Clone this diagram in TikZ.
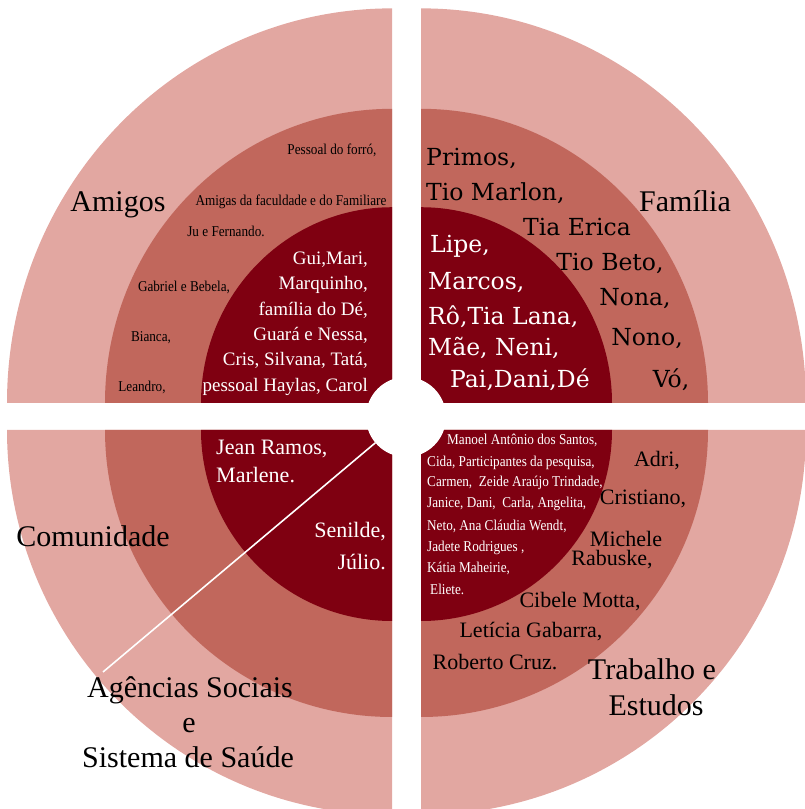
\documentclass[tikz,border=0pt]{standalone}
\usepackage{fontspec}
\setmainfont{Liberation Serif}
\newfontfamily\condfont[FakeStretch=0.88]{Liberation Serif}
\newfontfamily\wideserif{DejaVu Serif}
\usepackage{tikz}

\definecolor{outerring}{HTML}{E2A7A1}
\definecolor{midring}{HTML}{C1675C}
\definecolor{innerring}{HTML}{7F0011}

\tikzset{
  sector label/.style={inner sep=0, anchor=base, font=\fontsize{30}{34}\selectfont},
  small name/.style={inner sep=0, anchor=mid, yshift=-2.5pt, text=black, font=\condfont\fontsize{15}{18}\selectfont},
  small white/.style={inner sep=0, anchor=mid west, yshift=-2.5pt, text=white, font=\condfont\fontsize{15}{18}\selectfont},
  ring name/.style={inner sep=0, anchor=mid, yshift=-5pt, text=black, font=\fontsize{22}{24}\selectfont},
  white name/.style={inner sep=0, yshift=-5pt, text=white, font=\fontsize{22}{24}\selectfont},
  wide name/.style={inner sep=0, anchor=mid, yshift=-5pt, font=\wideserif\fontsize{23.5}{26}\selectfont}
}

\begin{document}
\begin{tikzpicture}[x=1pt,y=1pt]
\useasboundingbox (0,0) rectangle (805,809);

% quadrants, three rings each
\begin{scope}
\clip (0,0) rectangle (805,809);
\foreach \cx/\cy/\a/\sy in {392/406/90/1.025, 421/406/0/1.025, 392/379/180/1, 421/379/270/1}
  \foreach \rad/\col in {385/outerring, 287/midring, 191/innerring}
    \fill[\col] (\cx,\cy) -- ++({\rad*cos(\a)},{\rad*\sy*sin(\a)})
      arc[start angle=\a, delta angle=90, x radius=\rad, y radius=\rad*\sy] -- cycle;
\end{scope}

\node[circle, fill=white, minimum size=80pt, inner sep=0] (hub) at (406,392) {};
\coordinate (split) at (103,137);
\draw[white, line width=1.6pt] (hub) -- (split);

% sector labels
\node[sector label] (amigos) at (118,597) {Amigos};
\node[sector label] (familia) at (685,597) {Família};
\node[sector label] (comunidade) at (93,262) {Comunidade};
\node[sector label] (agencias) at (190,111) {Agências Sociais};
\node[sector label] (agencias-e) at (189,76) {e};
\node[sector label] (saude) at (188,41) {Sistema de Saúde};
\node[sector label] (trabalho) at (652,129) {Trabalho e};
\node[sector label] (estudos) at (656,93) {Estudos};

% Amigos
\node[small name] (forro) at (332,659) {Pessoal do forró,};
\node[small name] (faculdade) at (291,608) {Amigas da faculdade e do Familiare};
\node[small name] (jufernando) at (226,577) {Ju e Fernando.};
\node[small name] (gabriel) at (184,522) {Gabriel e Bebela,};
\node[small name] (bianca) at (151,472) {Bianca,};
\node[small name] (leandro) at (142,422) {Leandro,};
\foreach \txt [count=\i] in {{Gui,Mari,},{Marquinho,},{família do Dé,},{Guará e Nessa,},{Cris, Silvana, Tatá,},{pessoal Haylas, Carol}}
  \node[white name, font=\fontsize{19}{22}\selectfont, anchor=mid east] (amigo-\i) at (368,{552-25.4*(\i-1)}) {\txt};

% Familia
\node[wide name, anchor=mid west] (primos) at (426,651) {Primos,};
\node[wide name, anchor=mid west] (marlon) at (426,616) {Tio Marlon,};
\node[wide name] (erica) at (577,581) {Tia Erica};
\node[wide name] (beto) at (610,546) {Tio Beto,};
\node[wide name] (nona) at (635,511) {Nona,};
\node[wide name] (nono) at (647,471) {Nono,};
\node[wide name] (vo) at (671,429) {Vó,};
\node[wide name, text=white, anchor=mid west] (lipe) at (430,564) {Lipe,};
\node[wide name, text=white, anchor=mid west] (marcos) at (428,527) {Marcos,};
\node[wide name, text=white, anchor=mid west] (lana) at (428,492) {Rô,Tia Lana,};
\node[wide name, text=white, anchor=mid west] (mae) at (428,461) {Mãe, Neni,};
\node[wide name, text=white, anchor=mid west] (pai) at (450,429) {Pai,Dani,Dé};

% Trabalho e Estudos
\node[small white] (manoel) at (447,369) {Manoel Antônio dos Santos,};
\node[small white] (cida) at (427,347) {Cida, Participantes da pesquisa,};
\node[small white] (carmen) at (427,327) {Carmen,\ \ Zeide Araújo Trindade,};
\node[small white] (janice) at (427,306) {Janice, Dani,\ \ Carla, Angelita,};
\node[small white] (neto) at (427,283) {Neto, Ana Cláudia Wendt,};
\node[small white] (jadete) at (427,262) {Jadete Rodrigues ,};
\node[small white] (katia) at (427,241) {Kátia Maheirie,};
\node[small white] (eliete) at (430,219) {Eliete.};
\node[ring name] (adri) at (657,350) {Adri,};
\node[ring name] (cristiano) at (643,312) {Cristiano,};
\node[ring name] (michele) at (626,270) {Michele};
\node[ring name] (rabuske) at (612,251) {Rabuske,};
\node[ring name] (cibele) at (580,209) {Cibele Motta,};
\node[ring name] (leticia) at (531,179) {Letícia Gabarra,};
\node[ring name] (roberto) at (495,147) {Roberto Cruz.};

% Comunidade
\node[white name, anchor=mid west] (jean) at (216,362) {Jean Ramos,};
\node[white name, anchor=mid west] (marlene) at (216,334) {Marlene.};
\node[white name, anchor=mid east] (senilde) at (386,279) {Senilde,};
\node[white name, anchor=mid east] (julio) at (386,247) {Júlio.};
\end{tikzpicture}
\end{document}
